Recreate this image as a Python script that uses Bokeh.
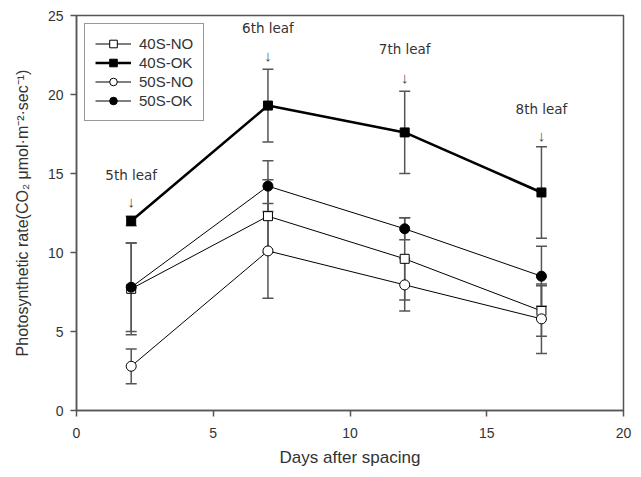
from bokeh.plotting import figure
from bokeh.models import ColumnDataSource, Whisker, TeeHead, Legend, LegendItem, FixedTicker
from bokeh.core.properties import value
from bokeh.embed import file_html
from bokeh.resources import INLINE

days = [2, 7, 12, 17]
series_names = ["40S-NO", "40S-OK", "50S-NO", "50S-OK"]
v_40s_no = [7.7, 12.3, 9.6, 6.3]
e_40s_no = [2.9, 2.3, 2.6, 1.6]
v_40s_ok = [12.0, 19.3, 17.6, 13.8]
e_40s_ok = [0.3, 2.3, 2.6, 2.9]
v_50s_no = [2.8, 10.1, 7.95, 5.8]
e_50s_no = [1.1, 3.0, 1.65, 2.2]
v_50s_ok = [7.8, 14.2, 11.5, 8.5]
e_50s_ok = [2.8, 1.6, 0.7, 1.9]

leaf_labels = ["5th leaf", "6th leaf", "7th leaf", "8th leaf"]
leaf_label_y = [14.9, 24.2, 22.9, 19.1]
leaf_arrow_y = [13.2, 22.5, 21.1, 17.4]

x_ticks = [0, 5, 10, 15, 20]
y_ticks = [0, 5, 10, 15, 20, 25]

FONT = "Liberation Sans"
AX = "#555555"
TXT = "#333333"

p = figure(width=633, height=469, x_range=(0, 20), y_range=(0, 25),
           output_backend="svg", toolbar_location=None,
           min_border_left=76, min_border_top=15, min_border_right=10, min_border_bottom=0)
p.xgrid.visible = False
p.ygrid.visible = False
p.outline_line_color = AX
p.outline_line_width = 1.5
p.background_fill_color = "white"
p.border_fill_color = "white"

for ax in (p.xaxis[0], p.yaxis[0]):
    ax.axis_line_color = AX
    ax.axis_line_width = 1.5
    ax.major_tick_line_color = AX
    ax.major_tick_line_width = 1.5
    ax.major_tick_out = 6
    ax.major_tick_in = 0
    ax.minor_tick_line_color = None
    ax.major_label_text_font = FONT
    ax.major_label_text_font_size = "14px"
    ax.major_label_text_color = TXT
    ax.axis_label_text_font = FONT
    ax.axis_label_text_font_style = "normal"
    ax.axis_label_text_color = TXT

p.xaxis.axis_label_text_font_size = "17px"
p.yaxis.axis_label_text_font_size = "16px"
p.xaxis.ticker = FixedTicker(ticks=x_ticks)
p.yaxis.ticker = FixedTicker(ticks=y_ticks)
p.xaxis.axis_label = "Days after spacing"
p.yaxis.axis_label = "Photosynthetic rate(CO\u2082 \u03bcmol\u00b7m\u207b\u00b2\u00b7sec\u207b\u00b9)"
p.xaxis.major_label_standoff = 11
p.xaxis.axis_label_standoff = 7
p.yaxis.major_label_standoff = 7
p.yaxis.axis_label_standoff = 14

specs = [
    ("40S-NO", v_40s_no, e_40s_no, "square", "white", 1.0),
    ("40S-OK", v_40s_ok, e_40s_ok, "square", "black", 2.6),
    ("50S-NO", v_50s_no, e_50s_no, "circle", "white", 1.0),
    ("50S-OK", v_50s_ok, e_50s_ok, "circle", "black", 1.0),
]

for name, vals, errs, marker, fill, lw in specs:
    src = ColumnDataSource(dict(x=days, upper=[v + e for v, e in zip(vals, errs)],
                                lower=[v - e for v, e in zip(vals, errs)]))
    w = Whisker(base="x", upper="upper", lower="lower", source=src, dimension="height",
                line_color=AX, line_width=1.5, level="underlay",
                upper_head=TeeHead(size=11, line_color=AX, line_width=1.5),
                lower_head=TeeHead(size=11, line_color=AX, line_width=1.5))
    p.add_layout(w)

items = []
for name, vals, errs, marker, fill, lw in specs:
    src = ColumnDataSource(dict(x=days, y=vals))
    r1 = p.line("x", "y", source=src, line_color="black", line_width=lw)
    r2 = p.scatter("x", "y", source=src, marker=marker, size=10 if marker == "circle" else 9,
                   fill_color=fill, line_color="black", line_width=1.0)
    items.append(LegendItem(label=name, renderers=[r1, r2]))

ann = ColumnDataSource(dict(x=days, ly=leaf_label_y, ay=leaf_arrow_y, t=leaf_labels,
                            arrow=["\u2193"] * len(days)))
p.text("x", "ly", text="t", source=ann, text_align="center", text_baseline="middle",
       text_font=value("DejaVu Sans"), text_font_size="13.5px", text_color=TXT)
p.text("x", "ay", text="arrow", source=ann, text_align="center", text_baseline="middle",
       text_font=value("Liberation Sans"), text_font_size="15px", text_color="#444444")

legend = Legend(items=items, location="top_left")
legend.margin = 8
legend.padding = 10
legend.spacing = 0
legend.glyph_width = 36
legend.glyph_height = 19
legend.label_height = 19
legend.label_standoff = 8
legend.label_text_font = FONT
legend.label_text_font_size = "15px"
legend.label_text_color = TXT
legend.border_line_color = "#333333"
legend.border_line_width = 1.2
legend.background_fill_alpha = 1.0
p.add_layout(legend, "center")

open("out.html", "w").write(file_html(p, INLINE))
